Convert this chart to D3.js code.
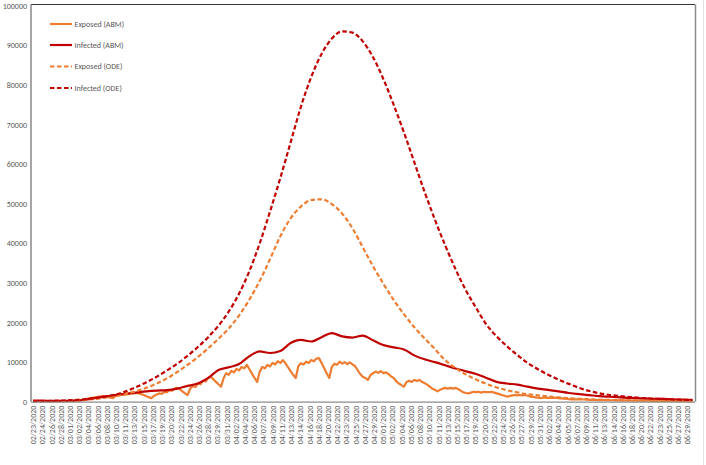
<!DOCTYPE html>
<html><head><meta charset="utf-8">
<script src="https://cdn.jsdelivr.net/npm/d3@7"></script>
<style>
body{margin:0;background:#fff}
svg{display:block}
text{font-family:Carlito,Calibri,"Liberation Sans",sans-serif;fill:#595959}
</style>
</head><body>
<svg id="c" width="706" height="465"></svg>
<script>
// ---- DATA ----
const tickLabels = ["02/23/2020","02/24/2020","02/26/2020","02/28/2020","03/01/2020","03/02/2020","03/04/2020","03/06/2020","03/08/2020","03/10/2020","03/11/2020","03/13/2020","03/15/2020","03/17/2020","03/19/2020","03/20/2020","03/22/2020","03/24/2020","03/26/2020","03/28/2020","03/29/2020","03/31/2020","04/02/2020","04/04/2020","04/06/2020","04/07/2020","04/09/2020","04/11/2020","04/13/2020","04/14/2020","04/16/2020","04/18/2020","04/20/2020","04/22/2020","04/23/2020","04/25/2020","04/27/2020","04/29/2020","05/01/2020","05/02/2020","05/04/2020","05/06/2020","05/08/2020","05/10/2020","05/11/2020","05/13/2020","05/15/2020","05/17/2020","05/19/2020","05/20/2020","05/22/2020","05/24/2020","05/26/2020","05/27/2020","05/29/2020","05/31/2020","06/02/2020","06/04/2020","06/05/2020","06/07/2020","06/09/2020","06/11/2020","06/13/2020","06/14/2020","06/16/2020","06/18/2020","06/20/2020","06/22/2020","06/23/2020","06/25/2020","06/27/2020","06/29/2020"];

const seriesNames = ["Exposed (ABM)","Infected (ABM)","Exposed (ODE)","Infected (ODE)"];

// days since 02/23/2020, every 2 days
const odeDays = d3.range(0, 129, 2);
const exposedODE = [50,80,120,180,280,450,700,1000,1400,1950,2650,3500,4600,5900,7500,9300,
  11300,13500,15900,18500,21800,25800,30500,36000,41800,46300,49300,50900,51100,49900,47500,43800,
  39000,34200,29800,25700,22100,18800,16000,13300,10500,8500,6900,5600,4500,3600,2900,2350,
  1900,1600,1300,1080,900,750,620,520,440,380,330,290,260,230,210,190,170];
const infectedODE = [100,150,210,300,420,600,900,1300,1800,2600,3700,4900,6300,7900,9600,11600,
  13800,16300,19200,22800,27300,33000,40000,48000,56500,65500,74500,82000,87800,91700,93500,93200,
  91000,87000,81500,75000,68000,60500,53000,46000,39500,33500,28200,23700,19500,16500,14000,11800,
  9800,8200,6800,5600,4500,3500,2700,2100,1700,1400,1150,950,800,700,600,500,450];

const infABMDays = d3.range(0, 129, 2);
const infectedABM = [300,250,200,200,250,500,900,1300,1700,2000,2300,2600,2800,2900,3300,4000,
  4600,6000,8000,8700,9500,11500,12700,12300,12800,14800,15600,15200,16300,17300,16500,16200,
  16700,15500,14300,13700,13200,11700,10700,10000,9200,8400,7700,7000,6000,5000,4600,4300,
  3800,3300,3000,2600,2200,1900,1650,1400,1250,1100,950,850,750,700,600,500,400];

// every half day
const expABMDays = d3.range(0, 128.01, 0.5);
const exposedABM = [
  200,180,160,150,130,120,110,100,100,100,100,110,120,140,
  170,200,250,320,400,500,600,750,900,1000,1100,1200,1300,1400,
  1300,1200,1000,900,1400,1600,1700,1800,1800,1900,2000,2100,2200,2100,
  1900,1700,1400,1100,900,1500,1800,2100,2000,2500,2400,2900,2800,3300,
  3500,3100,2600,2100,1700,3300,3900,3700,4600,4400,5300,5100,6000,6300,
  5700,5000,4400,3800,6000,7200,6800,7800,7400,8300,7900,8800,8400,9300,
  8200,7100,6000,5000,7600,8800,8400,9300,8900,9800,9400,10200,9800,10500,
  9700,8700,7700,6800,6000,9000,9700,9400,10100,9800,10500,10200,10900,11000,
  9800,8500,7200,6000,8800,9600,9300,10100,9600,10000,9500,9900,9400,9000,
  8000,7000,6300,6000,5500,6700,7200,7600,7300,7700,7200,7400,7000,6400,
  6000,5200,4600,4200,3800,5000,5300,5000,5500,5200,5500,5000,4700,4300,
  3800,3300,3000,2600,3000,3300,3500,3300,3500,3300,3500,3200,2800,2400,
  2200,2100,2300,2500,2400,2500,2300,2500,2400,2400,2500,2300,2100,1900,
  1700,1500,1300,1400,1600,1700,1600,1700,1600,1700,1500,1300,1200,1100,
  1000,900,1000,1000,950,1000,950,1000,900,850,800,700,650,600,
  600,580,560,600,550,500,480,450,430,420,400,390,380,380,
  370,360,350,350,340,330,320,310,300,290,280,270,260,250,
  250,240,230,220,220,210,200,200,190,190,180,180,170,170,
  160,160,150,150,150];

const yTicks = d3.range(0, 100001, 10000);

// ---- CHART ----
const svg = d3.select("#c");
const x = d3.scaleLinear().domain([-0.4, 128.5]).range([31, 695]);
const y = d3.scaleLinear().domain([0, 100000]).range([401.7, 5.7]);
const xLab = d3.scalePoint().domain(tickLabels).range([x(0), x(127)]);

const colExp = "#ED7D31", colInf = "#C00000";

// outer light border
svg.append("line").attr("x1",703.5).attr("x2",703.5).attr("y1",0).attr("y2",465).attr("stroke","#e3e3e3");

// y axis
const yAxis = svg.append("g").attr("transform","translate(31,0)")
  .call(d3.axisLeft(y).tickValues(yTicks).tickFormat(d3.format("d")).tickSize(0).tickPadding(4));
yAxis.select(".domain").remove();
yAxis.selectAll("text").attr("font-size","8px").style("fill","#595959")
  .style("font-family","Carlito,Calibri,'Liberation Sans',sans-serif");

// x axis labels
const xAxis = svg.append("g").attr("transform",`translate(0,${y(0)})`)
  .call(d3.axisBottom(xLab).tickSize(0).tickPadding(0));
xAxis.select(".domain").remove();
xAxis.selectAll("text")
  .attr("font-size","8px").style("fill","#595959")
  .style("font-family","Carlito,Calibri,'Liberation Sans',sans-serif")
  .attr("transform","rotate(-90)").attr("text-anchor","end")
  .attr("x",-4).attr("y",0).attr("dy","0.32em");

// frame
svg.append("line").attr("x1",31).attr("x2",695).attr("y1",4.5).attr("y2",4.5).attr("stroke","#3a3a3a").attr("stroke-width",1.2);
svg.append("line").attr("x1",31).attr("x2",31).attr("y1",4.5).attr("y2",y(0)).attr("stroke","#6a6a6a").attr("stroke-width",1.2);
svg.append("line").attr("x1",695.5).attr("x2",695.5).attr("y1",4.5).attr("y2",y(0)).attr("stroke","#8a8a8a").attr("stroke-width",1.5);

const lineSmooth = (days) => d3.line().x((d,i)=>x(days[i])).y(d=>y(d)).curve(d3.curveMonotoneX);
const lineRaw = (days) => d3.line().x((d,i)=>x(days[i])).y(d=>y(d));

svg.append("path").datum(exposedABM).attr("d", lineRaw(expABMDays))
  .attr("fill","none").attr("stroke",colExp).attr("stroke-width",2.2).attr("stroke-linejoin","round");
svg.append("path").datum(infectedABM).attr("d", lineSmooth(infABMDays))
  .attr("fill","none").attr("stroke",colInf).attr("stroke-width",2.2);
svg.append("path").datum(exposedODE).attr("d", lineSmooth(odeDays))
  .attr("fill","none").attr("stroke",colExp).attr("stroke-width",2.2).attr("stroke-dasharray","4.5,2.5");
svg.append("path").datum(infectedODE).attr("d", lineSmooth(odeDays))
  .attr("fill","none").attr("stroke",colInf).attr("stroke-width",2.2).attr("stroke-dasharray","4.5,2.5");

// bottom axis line
svg.append("line").attr("x1",31).attr("x2",695).attr("y1",y(0)+0.5).attr("y2",y(0)+0.5).attr("stroke","#8c8c8c").attr("stroke-width",1.2);

// legend
const legCols = [colExp, colInf, colExp, colInf];
const legDash = [null, null, "4.5,2.5", "4.5,2.5"];
const legY = [24, 45, 66.5, 88];
const leg = svg.append("g");
seriesNames.forEach((n,i)=>{
  leg.append("line").attr("x1",50).attr("x2",72).attr("y1",legY[i]).attr("y2",legY[i])
    .attr("stroke",legCols[i]).attr("stroke-width",2.2).attr("stroke-dasharray",legDash[i]);
  leg.append("text").attr("x",74.5).attr("y",legY[i]).attr("dy","0.33em").attr("font-size","8px").text(n);
});
</script>
</body></html>
